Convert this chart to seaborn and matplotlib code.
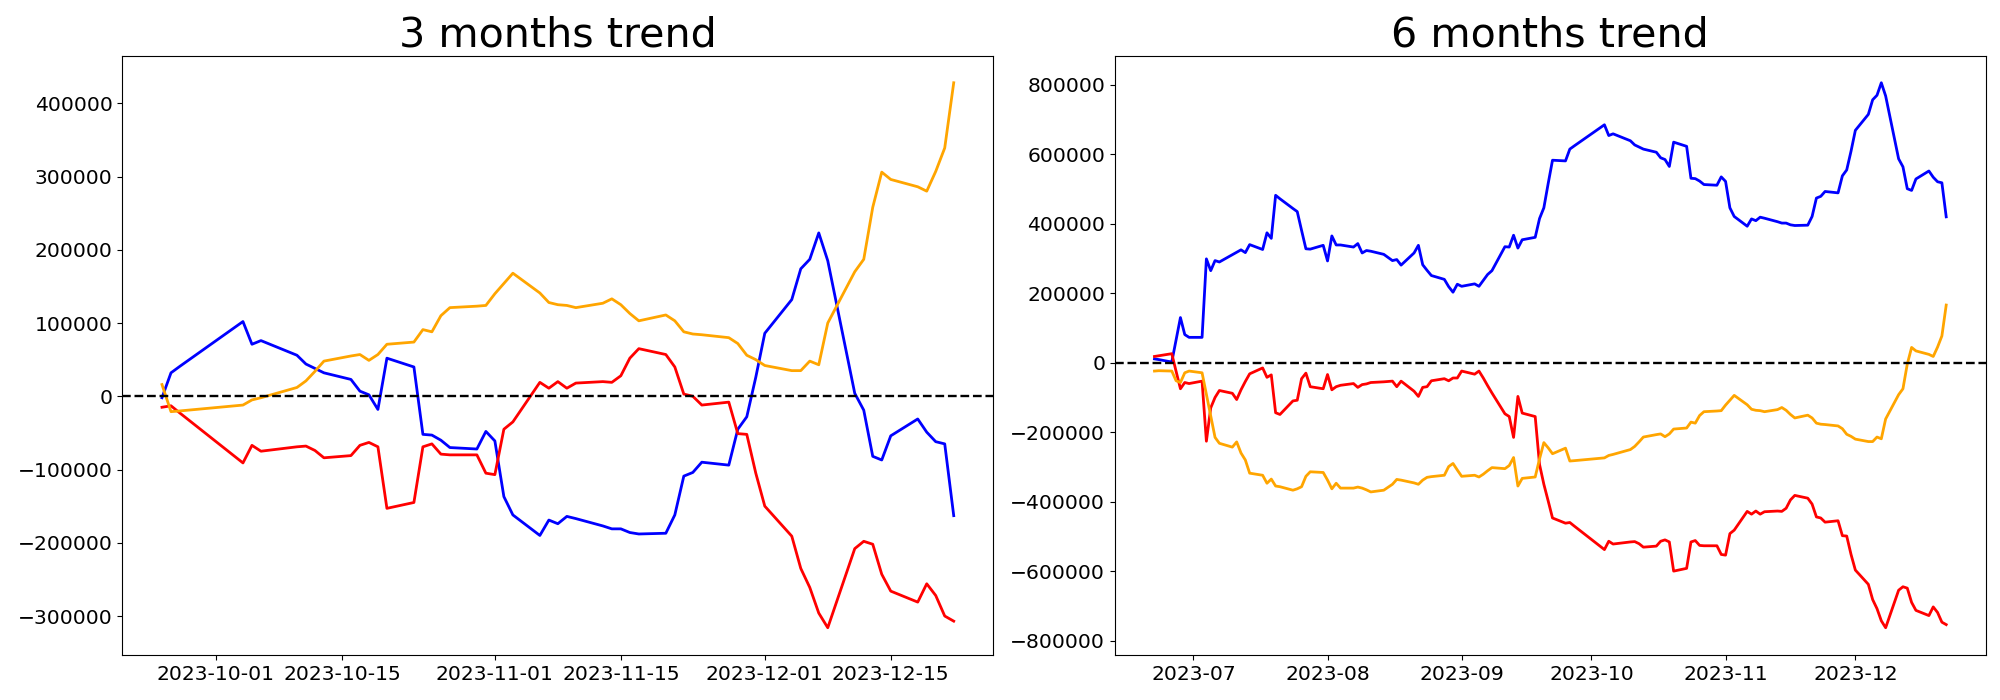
import matplotlib
matplotlib.use("Agg")
import matplotlib.pyplot as plt
import matplotlib.dates as mdates
import seaborn as sns
import pandas as pd

# ---------------- data ----------------
dates_6m = [
    "2023-06-22", "2023-06-23", "2023-06-26", "2023-06-27", "2023-06-28", "2023-06-29", "2023-06-30",
    "2023-07-03", "2023-07-04", "2023-07-05", "2023-07-06", "2023-07-07", "2023-07-10", "2023-07-11",
    "2023-07-12", "2023-07-13", "2023-07-14", "2023-07-17", "2023-07-18", "2023-07-19", "2023-07-20",
    "2023-07-21", "2023-07-24", "2023-07-25", "2023-07-26", "2023-07-27", "2023-07-28", "2023-07-31",
    "2023-08-01", "2023-08-02", "2023-08-03", "2023-08-04", "2023-08-07", "2023-08-08", "2023-08-09",
    "2023-08-10", "2023-08-11", "2023-08-14", "2023-08-16", "2023-08-17", "2023-08-18", "2023-08-21",
    "2023-08-22", "2023-08-23", "2023-08-24", "2023-08-25", "2023-08-28", "2023-08-29", "2023-08-30",
    "2023-08-31",
    "2023-09-01", "2023-09-04", "2023-09-05", "2023-09-06", "2023-09-07", "2023-09-08", "2023-09-11",
    "2023-09-12", "2023-09-13", "2023-09-14", "2023-09-15", "2023-09-18", "2023-09-19", "2023-09-20",
    "2023-09-21", "2023-09-22",
    "2023-09-25", "2023-09-26", "2023-09-27",
    "2023-10-04", "2023-10-05", "2023-10-06", "2023-10-10", "2023-10-11", "2023-10-12", "2023-10-13",
    "2023-10-16", "2023-10-17", "2023-10-18", "2023-10-19", "2023-10-20", "2023-10-23", "2023-10-24",
    "2023-10-25", "2023-10-26", "2023-10-27", "2023-10-30", "2023-10-31",
    "2023-11-01", "2023-11-02", "2023-11-03", "2023-11-06", "2023-11-07", "2023-11-08", "2023-11-09",
    "2023-11-10", "2023-11-13", "2023-11-14", "2023-11-15", "2023-11-16", "2023-11-17", "2023-11-20",
    "2023-11-21", "2023-11-22", "2023-11-23", "2023-11-24", "2023-11-27", "2023-11-28", "2023-11-29",
    "2023-11-30",
    "2023-12-01", "2023-12-04", "2023-12-05", "2023-12-06", "2023-12-07", "2023-12-08", "2023-12-11",
    "2023-12-12", "2023-12-13", "2023-12-14", "2023-12-15", "2023-12-18", "2023-12-19", "2023-12-20",
    "2023-12-21", "2023-12-22",
]
dates_3m = dates_6m[-60:]

# 6 months cumulative values
blue_6m = [
    11000, 9000, 2000, 66000, 130000, 81000, 73000,
    73000, 299000, 265000, 294000, 290000, 311000, 318000, 325000, 317000, 340000, 326000, 374000,
    358000, 482000, 472000, 444000, 435000, 381000, 328000, 327000, 338000,
    293000, 365000, 339000, 339000, 333000, 343000, 316000, 323000, 321000, 312000, 294000, 297000,
    281000, 316000, 338000, 282000, 266000, 251000, 240000, 219000, 203000, 226000,
    220000, 227000, 220000, 237000, 254000, 265000, 334000, 333000, 367000, 330000, 354000, 361000,
    415000, 446000, 516000, 583000,
    581000, 615000, 624000, 685000, 654000, 659000, 639000, 627000, 621000, 615000, 606000, 590000,
    585000, 565000, 635000, 623000, 531000, 530000, 523000, 513000, 511000, 535000,
    522000, 446000, 421000, 393000, 414000, 409000, 419000, 416000, 406000, 402000, 402000, 397000,
    395000, 396000, 421000, 474000, 479000, 493000, 489000, 538000, 555000, 609000,
    669000, 715000, 757000, 770000, 806000, 768000, 587000, 564000, 501000, 496000, 529000, 552000,
    534000, 521000, 518000, 420000,
]
red_6m = [
    18000, 20000, 26000, -25000, -75000, -57000, -60000,
    -53000, -226000, -130000, -100000, -80000, -88000, -106000, -78000, -54000, -32000, -15000, -42000,
    -35000, -144000, -149000, -110000, -108000, -46000, -30000, -69000, -75000,
    -34000, -78000, -69000, -65000, -60000, -71000, -63000, -61000, -57000, -55000, -53000, -69000,
    -53000, -82000, -97000, -71000, -69000, -52000, -46000, -52000, -44000, -44000,
    -24000, -33000, -24000, -44000, -66000, -87000, -147000, -155000, -215000, -97000, -145000,
    -155000, -293000, -350000, -398000, -447000,
    -462000, -460000, -470000, -538000, -514000, -522000, -516000, -515000, -521000, -531000, -528000,
    -514000, -510000, -516000, -600000, -592000, -516000, -512000, -526000, -527000, -527000, -552000,
    -554000, -492000, -482000, -428000, -436000, -427000, -436000, -429000, -427000, -428000, -419000,
    -395000, -382000, -390000, -407000, -444000, -447000, -459000, -455000, -498000, -499000, -552000,
    -597000, -638000, -682000, -708000, -743000, -763000, -655000, -645000, -649000, -690000, -713000,
    -728000, -703000, -719000, -747000, -754000,
]
orange_6m = [
    -24000, -23000, -24000, -52000, -57000, -29000, -24000,
    -29000, -91000, -153000, -215000, -232000, -243000, -228000, -260000, -280000, -318000, -324000,
    -347000, -335000, -355000, -357000, -367000, -363000, -357000, -327000, -314000, -316000,
    -338000, -363000, -347000, -361000, -361000, -358000, -361000, -366000, -372000, -367000, -350000,
    -336000, -338000, -346000, -350000, -338000, -330000, -328000, -324000, -299000, -290000, -309000,
    -327000, -324000, -329000, -321000, -311000, -302000, -305000, -296000, -273000, -355000, -333000,
    -329000, -277000, -230000, -245000, -262000,
    -246000, -283000, -282000, -274000, -267000, -264000, -250000, -241000, -228000, -214000, -207000,
    -205000, -213000, -205000, -191000, -188000, -171000, -174000, -152000, -141000, -139000, -138000,
    -122000, -108000, -94000, -121000, -134000, -137000, -138000, -141000, -135000, -129000, -137000,
    -149000, -159000, -151000, -159000, -174000, -177000, -178000, -182000, -190000, -206000, -212000,
    -220000, -227000, -227000, -214000, -219000, -162000, -92000, -75000, -4000, 44000, 34000,
    24000, 18000, 45000, 77000, 166000,
]

# 3 months cumulative values
blue_3m = [
    -2000, 32000, 41000, 102000, 71000, 76000, 56000, 44000, 38000, 32000, 23000, 7000, 2000, -18000,
    52000, 40000, -52000, -53000, -60000, -70000, -72000, -48000, -61000, -137000, -162000, -190000,
    -169000, -174000, -164000, -167000, -177000, -181000, -181000, -186000, -188000, -187000, -162000,
    -109000, -104000, -90000, -94000, -45000, -28000, 26000, 86000, 132000, 174000, 187000, 223000,
    185000, 4000, -19000, -82000, -87000, -54000, -31000, -49000, -62000, -65000, -163000,
]
red_3m = [
    -15000, -13000, -23000, -91000, -67000, -75000, -69000, -68000, -74000, -84000, -81000, -67000,
    -63000, -69000, -153000, -145000, -69000, -65000, -79000, -80000, -80000, -105000, -107000, -45000,
    -35000, 19000, 11000, 20000, 11000, 18000, 20000, 19000, 28000, 52000, 65000, 57000, 40000, 3000,
    0, -12000, -8000, -51000, -52000, -105000, -150000, -191000, -235000, -261000, -296000, -316000,
    -208000, -198000, -202000, -243000, -266000, -281000, -256000, -272000, -300000, -307000,
]
orange_3m = [
    16000, -21000, -20000, -12000, -5000, -2000, 12000, 21000, 34000, 48000, 55000, 57000, 49000,
    57000, 71000, 74000, 91000, 88000, 110000, 121000, 123000, 124000, 140000, 154000, 168000, 141000,
    128000, 125000, 124000, 121000, 127000, 133000, 125000, 113000, 103000, 111000, 103000, 88000,
    85000, 84000, 80000, 72000, 56000, 50000, 42000, 35000, 35000, 48000, 43000, 100000, 170000,
    187000, 258000, 306000, 296000, 286000, 280000, 307000, 339000, 428000,
]

series_colors = ["blue", "red", "orange"]
titles = ["3 months trend", "6 months trend"]

# ---------------- plot ----------------
fig, axes = plt.subplots(1, 2, figsize=(20, 7), dpi=100)
fig.subplots_adjust(left=0.0612, right=0.9929, bottom=0.0643, top=0.9207, wspace=0.1396)


def draw(ax, dates, series, title, locator, fmt):
    d = pd.to_datetime(pd.Series(dates))
    for vals, col in zip(series, series_colors):
        df = pd.DataFrame({"date": d, "value": vals})
        sns.lineplot(data=df, x="date", y="value", color=col, linewidth=2.0, ax=ax)
    ax.axhline(0, color="black", linestyle="--", linewidth=1.7)
    ax.set_title(title, fontsize=29.7)
    ax.xaxis.set_major_locator(locator)
    ax.xaxis.set_major_formatter(mdates.DateFormatter(fmt))
    ax.tick_params(labelsize=14.6)
    ax.set_xlabel("")
    ax.set_ylabel("")


draw(axes[0], dates_3m, [blue_3m, red_3m, orange_3m], titles[0],
     mdates.DayLocator(bymonthday=[1, 15]), "%Y-%m-%d")
draw(axes[1], dates_6m, [blue_6m, red_6m, orange_6m], titles[1],
     mdates.MonthLocator(), "%Y-%m")

fig.savefig("out.png", dpi=100)
